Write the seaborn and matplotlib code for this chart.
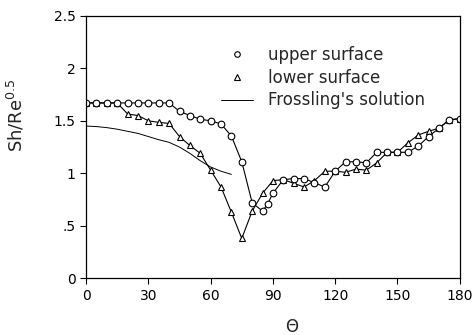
import numpy as np
import pandas as pd
import matplotlib
matplotlib.use("Agg")
import matplotlib.pyplot as plt
from matplotlib.lines import Line2D
import seaborn as sns

# Upper surface (circles)
theta_upper = [0, 5, 10, 15, 20, 25, 30, 35, 40, 45, 50, 55, 60, 65, 70, 75, 80, 85, 87.5, 90,
               95, 100, 105, 110, 115, 120, 125, 130, 135, 140, 145, 150, 155, 160, 165, 170, 175, 180]
sh_upper = [1.67, 1.67, 1.67, 1.67, 1.67, 1.67, 1.67, 1.67, 1.67, 1.59, 1.55, 1.515, 1.50, 1.47, 1.355,
            1.11, 0.72, 0.64, 0.71, 0.81, 0.94, 0.95, 0.95, 0.91, 0.87, 1.02, 1.11, 1.11, 1.10, 1.20,
            1.20, 1.20, 1.20, 1.26, 1.35, 1.43, 1.51, 1.52]

# Lower surface (triangles)
theta_lower = [0, 5, 10, 15, 20, 25, 30, 35, 40, 45, 50, 55, 60, 65, 70, 75, 80, 85, 90,
               95, 100, 105, 110, 115, 120, 125, 130, 135, 140, 145, 150, 155, 160, 165, 170, 175, 180]
sh_lower = [1.67, 1.67, 1.67, 1.67, 1.565, 1.55, 1.50, 1.485, 1.475, 1.35, 1.265, 1.19, 1.03, 0.87,
            0.63, 0.38, 0.64, 0.81, 0.93, 0.94, 0.905, 0.87, 0.93, 1.02, 1.02, 1.01, 1.04, 1.03,
            1.10, 1.20, 1.20, 1.29, 1.365, 1.40, 1.43, 1.51, 1.52]

# Frossling's solution (line)
theta_fross = [0, 5, 10, 15, 20, 25, 30, 35, 40, 45, 50, 55, 60, 65, 70]
sh_fross = [1.45, 1.445, 1.435, 1.42, 1.40, 1.38, 1.35, 1.32, 1.295, 1.25, 1.19, 1.12, 1.06, 1.02, 0.99]

xticks = [0, 30, 60, 90, 120, 150, 180]
yticks = [0, 0.5, 1, 1.5, 2, 2.5]
ytick_labels = ["0", ".5", "1", "1.5", "2", "2.5"]

sns.set_style("ticks")
plt.rcParams["font.family"] = ["DejaVu Sans"]

fig = plt.figure(figsize=(4.73, 3.35), dpi=100)
ax = fig.add_axes([0.182, 0.169, 0.790, 0.784])

df_u = pd.DataFrame({"theta": theta_upper, "sh": sh_upper})
df_l = pd.DataFrame({"theta": theta_lower, "sh": sh_lower})
df_f = pd.DataFrame({"theta": theta_fross, "sh": sh_fross})

sns.lineplot(data=df_l, x="theta", y="sh", ax=ax, color="black", lw=0.8,
             marker="^", markersize=4.8, markerfacecolor="white",
             markeredgecolor="black", markeredgewidth=0.8)
sns.lineplot(data=df_u, x="theta", y="sh", ax=ax, color="black", lw=0.8,
             marker="o", markersize=4.8, markerfacecolor="white",
             markeredgecolor="black", markeredgewidth=0.8)
sns.lineplot(data=df_f, x="theta", y="sh", ax=ax, color="black", lw=0.7)

ax.set_xlim(0, 180)
ax.set_ylim(0, 2.5)
ax.set_xticks(xticks)
ax.set_yticks(yticks)
ax.set_yticklabels(ytick_labels)
ax.tick_params(direction="out", length=4, width=0.8, labelsize=10, colors="black")
for s in ax.spines.values():
    s.set_visible(True)
    s.set_linewidth(0.9)
    s.set_color("black")

ax.set_xlabel("\u0398", fontsize=12)
ax.xaxis.set_label_coords(0.55, -0.15)
ax.set_ylabel("Sh/Re$^{0.5}$", fontsize=13)
ax.yaxis.set_label_coords(-0.16, 0.62)

handles = [
    Line2D([], [], linestyle="none", marker="o", markersize=4, markerfacecolor="white",
           markeredgecolor="black", markeredgewidth=0.8),
    Line2D([], [], linestyle="none", marker="^", markersize=4, markerfacecolor="white",
           markeredgecolor="black", markeredgewidth=0.8),
    Line2D([], [], color="black", lw=0.7),
]
labels = ["upper surface", "lower surface", "Frossling's solution"]
ax.legend(handles, labels, loc="upper left", bbox_to_anchor=(0.343, 0.91), frameon=False,
          fontsize=12, handlelength=1.9, handletextpad=0.9, labelspacing=0.28,
          borderaxespad=0.0)

fig.savefig("out.png", dpi=100)
